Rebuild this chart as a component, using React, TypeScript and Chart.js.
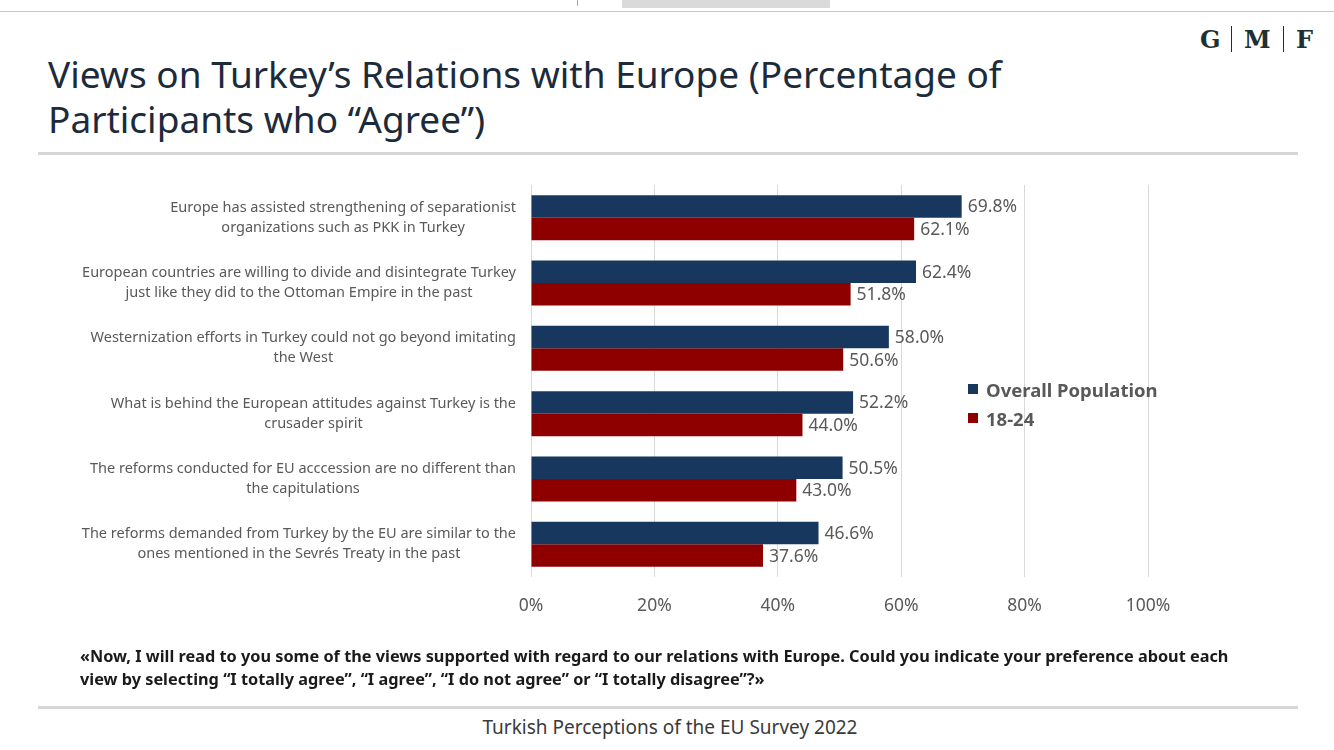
import React, { useEffect, useRef } from "react";
import { Chart, registerables } from "chart.js";

Chart.register(...registerables);

const categories: string[][] = [
  ["Europe has assisted strengthening of separationist", "organizations such as PKK in Turkey"],
  ["European countries are willing to divide and disintegrate Turkey", "just like they did to the Ottoman Empire in the past"],
  ["Westernization efforts in Turkey could not go beyond imitating", "the West"],
  ["What is behind the European attitudes against Turkey is the", "crusader spirit"],
  ["The reforms conducted for EU acccession are no different than", "the capitulations"],
  ["The reforms demanded from Turkey by the EU are similar to the", "ones mentioned in the Sevrés Treaty in the past"],
];

const overallPopulation = [69.8, 62.4, 58.0, 52.2, 50.5, 46.6];
const youth1824 = [62.1, 51.8, 50.6, 44.0, 43.0, 37.6];
const seriesNames = ["Overall Population", "18-24"];
const xTicks = [0, 20, 40, 60, 80, 100];

const NAVY = "#17375E";
const RED = "#8E0000";
const GRAY_TEXT = "#595959";
const FONT = "'Noto Sans', 'Open Sans', sans-serif";

const valueLabelPlugin = {
  id: "valueLabels",
  afterDatasetsDraw(chart: any) {
    const ctx = chart.ctx;
    ctx.save();
    ctx.font = `17.5px ${FONT}`;
    ctx.fillStyle = GRAY_TEXT;
    ctx.textAlign = "left";
    ctx.textBaseline = "middle";
    chart.data.datasets.forEach((ds: any, di: number) => {
      const meta = chart.getDatasetMeta(di);
      meta.data.forEach((bar: any, i: number) => {
        ctx.fillText(Number(ds.data[i]).toFixed(1) + "%", bar.x + 6, bar.y + 1);
      });
    });
    ctx.restore();
  },
};

const categoryLabelPlugin = {
  id: "categoryLabels",
  afterDraw(chart: any) {
    const ctx = chart.ctx;
    const yScale = chart.scales.y;
    const rightEdge = chart.chartArea.left - 15;
    const lineH = 20;
    ctx.save();
    ctx.font = `14.5px ${FONT}`;
    ctx.fillStyle = GRAY_TEXT;
    ctx.textAlign = "center";
    ctx.textBaseline = "middle";
    categories.forEach((lines, i) => {
      const yc = yScale.getPixelForValue(i);
      const w = Math.max(...lines.map((l) => ctx.measureText(l).width));
      const cx = rightEdge - w / 2;
      const y0 = yc - ((lines.length - 1) * lineH) / 2;
      lines.forEach((l, k) => ctx.fillText(l, cx, y0 + k * lineH));
    });
    ctx.restore();
  },
};

function BarChart() {
  const ref = useRef<HTMLCanvasElement | null>(null);
  useEffect(() => {
    if (!ref.current) return;
    const chart = new Chart(ref.current, {
      type: "bar",
      data: {
        labels: categories.map((c) => c.join(" ")),
        datasets: [
          {
            label: seriesNames[0],
            data: overallPopulation,
            backgroundColor: NAVY,
            categoryPercentage: 0.69,
            barPercentage: 1.0,
          },
          {
            label: seriesNames[1],
            data: youth1824,
            backgroundColor: RED,
            categoryPercentage: 0.69,
            barPercentage: 1.0,
          },
        ],
      },
      options: {
        indexAxis: "y",
        animation: false,
        responsive: false,
        devicePixelRatio: 1,
        layout: { padding: { left: 531, right: 186, top: 15, bottom: 15 } },
        plugins: {
          legend: { display: false },
          tooltip: { enabled: false },
          title: { display: false },
        },
        scales: {
          x: {
            min: xTicks[0],
            max: xTicks[xTicks.length - 1],
            afterBuildTicks: (scale: any) => {
              scale.ticks = xTicks.map((v) => ({ value: v }));
            },
            grid: { color: "#D9D9D9", drawTicks: false, lineWidth: 1 },
            border: { display: false },
            ticks: {
              padding: 19,
              color: GRAY_TEXT,
              font: { family: FONT, size: 17.5 },
              callback: (v: any) => `${v}%`,
            },
          },
          y: {
            display: false,
          },
        },
      },
      plugins: [valueLabelPlugin, categoryLabelPlugin],
    });
    return () => chart.destroy();
  }, []);
  return (
    <canvas
      ref={ref}
      width={1334}
      height={481}
      style={{ position: "absolute", left: 0, top: 170, width: 1334, height: 481 }}
    />
  );
}

export default function App() {
  const sep = { position: "absolute" as const, left: 38, width: 1260, height: 3, background: "#D6D6D6" };
  return (
    <div
      style={{
        position: "absolute",
        left: 0,
        top: 0,
        width: 1334,
        height: 750,
        background: "#FFFFFF",
        overflow: "hidden",
        fontFamily: FONT,
      }}
    >
      {/* browser artefacts at top */}
      <div style={{ position: "absolute", left: 0, top: 11, width: 1334, height: 1, background: "#C8C8C8" }} />
      <div style={{ position: "absolute", left: 622, top: 0, width: 208, height: 8, background: "#DADADA" }} />
      <div style={{ position: "absolute", left: 577, top: 0, width: 1, height: 6, background: "#AAAAAA" }} />

      {/* logo */}
      <div
        style={{
          position: "absolute",
          left: 1197,
          top: 24,
          height: 30,
          display: "flex",
          alignItems: "center",
          fontFamily: "'DejaVu Serif', 'Liberation Serif', serif",
          fontWeight: 700,
          fontSize: 24,
          color: "#1E3030",
        }}
      >
        <span style={{ padding: "0 10px 0 3px" }}>G</span>
        <span style={{ width: 1.5, height: 26, background: "#1E3030" }} />
        <span style={{ padding: "0 12px" }}>M</span>
        <span style={{ width: 1.5, height: 26, background: "#1E3030" }} />
        <span style={{ padding: "0 0 0 12px" }}>F</span>
      </div>

      {/* title */}
      <div
        style={{
          position: "absolute",
          left: 48,
          top: 51,
          fontSize: 37,
          lineHeight: "45px",
          color: "#1C2B3C",
          whiteSpace: "nowrap",
        }}
      >
        <div>Views on Turkey’s Relations with Europe (Percentage of</div>
        <div>Participants who “Agree”)</div>
      </div>
      <div style={{ ...sep, top: 152 }} />

      <BarChart />

      {/* legend */}
      {seriesNames.map((name, i) => (
        <div
          key={name}
          style={{
            position: "absolute",
            left: 968,
            top: 375 + i * 29,
            height: 28,
            display: "flex",
            alignItems: "center",
            fontSize: 18.5,
            fontWeight: 700,
            color: GRAY_TEXT,
            whiteSpace: "nowrap",
          }}
        >
          <span
            style={{
              width: 10,
              height: 10,
              background: i === 0 ? NAVY : RED,
              marginRight: 8,
              display: "inline-block",
            }}
          />
          {name}
        </div>
      ))}

      {/* question */}
      <div
        style={{
          position: "absolute",
          left: 80,
          top: 645,
          width: 1200,
          fontSize: 16.3,
          lineHeight: "23px",
          fontWeight: 700,
          color: "#1A1A1A",
          whiteSpace: "nowrap",
        }}
      >
        <div>«Now, I will read to you some of the views supported with regard to our relations with Europe. Could you indicate your preference about each</div>
        <div>view by selecting “I totally agree”, “I agree”, “I do not agree” or “I totally disagree”?»</div>
      </div>
      <div style={{ ...sep, top: 706 }} />

      {/* footer */}
      <div
        style={{
          position: "absolute",
          left: 0,
          width: 1340,
          top: 713,
          textAlign: "center",
          fontSize: 19,
          lineHeight: "28px",
          color: "#3A3A3A",
        }}
      >
        Turkish Perceptions of the EU Survey 2022
      </div>
    </div>
  );
}
